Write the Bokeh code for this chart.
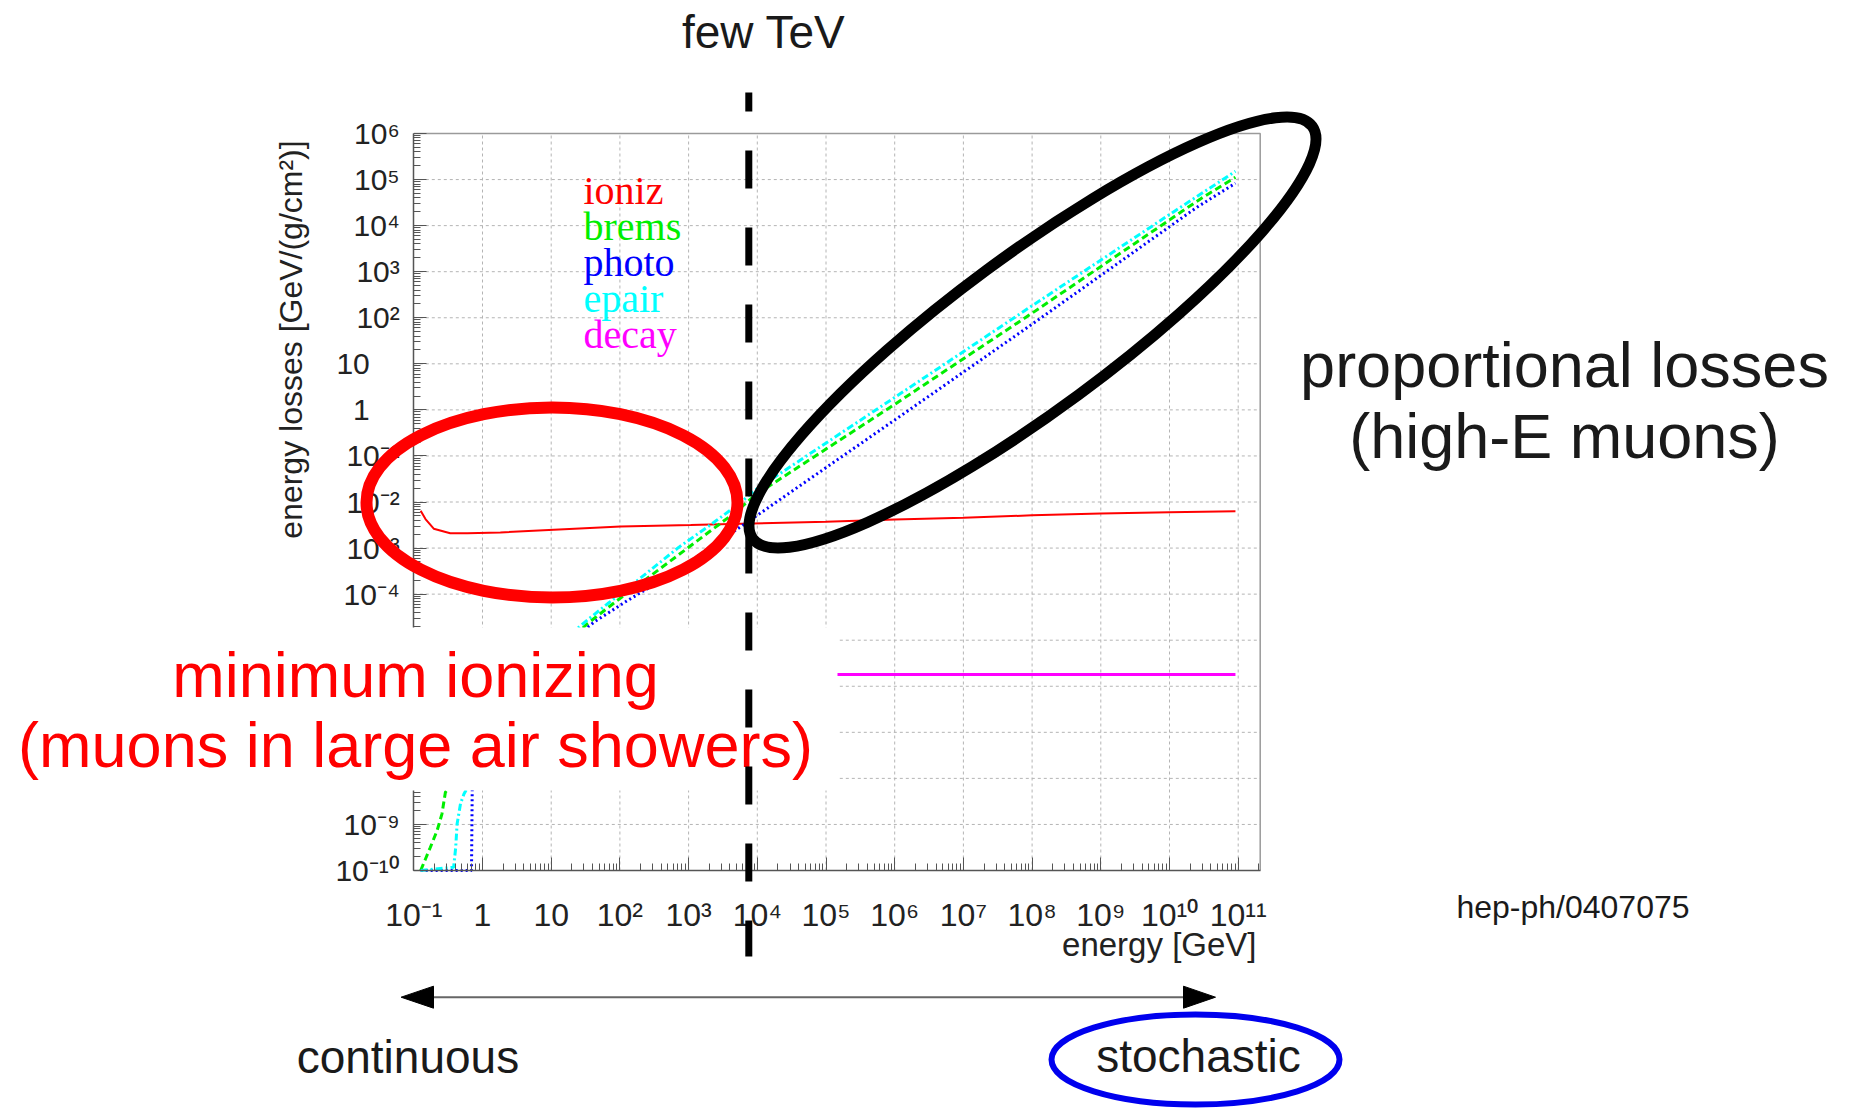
import numpy as np
from bokeh.plotting import figure
from bokeh.models import Range1d, LogScale, LogAxis, FixedTicker, CustomJSTickFormatter
from bokeh.core.properties import value
from bokeh.embed import file_html
from bokeh.resources import INLINE

# ---------------- data (log10 values) ----------------
series_names = ["ioniz", "brems", "photo", "epair", "decay"]
series_colors = ["#ff0000", "#00ee00", "#0000ff", "#00ffff", "#ff00ff"]

ioniz_log10E = [-0.90, -0.83, -0.71, -0.47, -0.22, 0.26, 1.04, 2.01, 3.03, 3.76,
                5.0, 6.0, 7.0, 8.0, 9.0, 10.0, 10.96]
ioniz_log10L = [-2.19, -2.37, -2.58, -2.68, -2.68, -2.66, -2.60, -2.53, -2.50, -2.47,
                -2.43, -2.38, -2.34, -2.29, -2.25, -2.22, -2.20]

brems_log10E = [-0.90, -0.83, -0.76, -0.66, -0.59, -0.54, 0.0, 0.5, 1.0, 1.52, 1.96,
                2.35, 3.03, 3.71, 3.96, 6.0, 8.0, 10.45, 10.96]
brems_log10L = [-10.0, -9.75, -9.50, -9.13, -8.77, -8.30, -7.3, -6.3, -5.4, -4.65, -4.14,
                -3.71, -2.95, -2.19, -1.86, 0.12, 2.10, 4.58, 5.05]

photo_log10E = [-0.90, -0.16, -0.15, -0.14, 0.5, 1.0, 1.62, 2.11, 2.59, 3.08, 3.37,
                3.96, 6.0, 8.0, 10.40, 10.96]
photo_log10L = [-10.0, -10.0, -8.3, -7.0, -6.2, -5.4, -4.61, -4.14, -3.71, -3.23, -2.93,
                -2.33, -0.22, 1.86, 4.40, 4.92]

epair_log10E = [-0.90, -0.42, -0.39, -0.37, -0.32, -0.27, 0.0, 0.5, 1.0, 1.43, 1.82,
                2.25, 2.86, 3.37, 3.76, 3.96, 6.0, 8.0, 10.09, 10.96]
epair_log10L = [-10.0, -9.93, -9.50, -8.99, -8.55, -8.34, -7.6, -6.4, -5.3, -4.68, -4.21,
                -3.71, -2.98, -2.44, -2.01, -1.75, 0.27, 2.26, 4.33, 5.18]

decay_log10E = [-0.90, 10.96]
decay_log10L = [-5.745, -5.745]

x_tick_exps = list(range(-1, 12))    # 10^-1 ... 10^11 GeV
y_tick_exps = list(range(-10, 7))    # 10^-10 ... 10^6

# ---------------- layout geometry (page pixels, measured from the top) ----------------
W, H = 1849, 1110
FX0, FX1, PX_DEC = 413.3, 1259.7, 68.7     # frame left (=1e-1), frame right, px per decade
FY_TOP, FY_BOT = 133.0, 870.0              # 1e6 and 1e-10
PY_DEC = (FY_BOT - FY_TOP) / 16.0
BASE_K = 0.36                              # baseline correction (fraction of font size)


def Y(top_px):
    return H - top_px


def YB(baseline_px, size):
    """page y for a text whose baseline should sit at baseline_px (from top)"""
    return H - (baseline_px - BASE_K * size)


ex0 = -1 - FX0 / PX_DEC
ex1 = -1 + (W - FX0) / PX_DEC
ly0 = -10 - (H - FY_BOT) / PY_DEC
ly1 = 6 + FY_TOP / PY_DEC
E_right = 10 ** (-1 + (FX1 - FX0) / PX_DEC)

p = figure(width=W, height=H, x_range=Range1d(0, W), y_range=Range1d(0, H),
           x_axis_type=None, y_axis_type=None, toolbar_location=None,
           output_backend="svg", min_border=0, outline_line_color=None, title=None)
p.background_fill_color = "white"
p.border_fill_color = "white"
p.extra_x_ranges = {"E": Range1d(10 ** ex0, 10 ** ex1)}
p.extra_x_scales = {"E": LogScale()}
p.extra_y_ranges = {"L": Range1d(10 ** ly0, 10 ** ly1)}
p.extra_y_scales = {"L": LogScale()}

# ---------------- grid + frame ----------------
xg = [10.0 ** k for k in x_tick_exps if k > -1]
yg = [10.0 ** k for k in y_tick_exps if -10 < k < 6]
p.segment(x0=xg, y0=[1e-10] * len(xg), x1=xg, y1=[1e6] * len(xg),
          x_range_name="E", y_range_name="L", line_color="#b4b4b4",
          line_width=1, line_dash="3 3", level="underlay")
p.segment(x0=[0.1] * len(yg), y0=yg, x1=[E_right] * len(yg), y1=yg,
          x_range_name="E", y_range_name="L", line_color="#b4b4b4",
          line_width=1, line_dash="3 3", level="underlay")
p.line(x=[0.1, E_right, E_right], y=[1e6, 1e6, 1e-10], x_range_name="E", y_range_name="L",
       line_color="#9a9a9a", line_width=1.5)

# ---------------- curves ----------------
def pw(a):
    return 10.0 ** np.array(a)

p.line(pw(ioniz_log10E), pw(ioniz_log10L), x_range_name="E", y_range_name="L",
       line_color=series_colors[0], line_width=2)
p.line(pw(brems_log10E), pw(brems_log10L), x_range_name="E", y_range_name="L",
       line_color=series_colors[1], line_width=3, line_dash="7 4")
p.line(pw(photo_log10E), pw(photo_log10L), x_range_name="E", y_range_name="L",
       line_color=series_colors[2], line_width=3, line_dash="2 3")
p.line(pw(epair_log10E), pw(epair_log10L), x_range_name="E", y_range_name="L",
       line_color=series_colors[3], line_width=3, line_dash="7 3 2 3")
p.line(pw(decay_log10E), pw(decay_log10L), x_range_name="E", y_range_name="L",
       line_color=series_colors[4], line_width=3)

# legend text (ROOT style, coloured words)
LEG = 40
p.text(x=[583] * 5,
       y=[YB(b, LEG) for b in (204, 240.5, 276, 312, 348)], text=series_names,
       text_color=series_colors, text_font=value("Liberation Serif"), text_font_size=f"{LEG}px",
       text_align="left", text_baseline="alphabetic")

# ---------------- axes ----------------
FMT = """
const sup = {"0":"\u2070","1":"\u00b9","2":"\u00b2","3":"\u00b3","4":"\u2074","5":"\u2075",
             "6":"\u2076","7":"\u2077","8":"\u2078","9":"\u2079","-":"\u207b"};
const e = Math.round(Math.log10(tick));
if (e === 0) return "1" + PAD;
if (e === 1) return "10" + PAD;
let s = "";
for (const c of String(e)) s += sup[c];
return "10" + s;
"""

xt = [10.0 ** k for k in x_tick_exps]
xminor = [m * 10.0 ** k for k in x_tick_exps for m in range(2, 10) if m * 10.0 ** k <= E_right]
yt = [10.0 ** k for k in y_tick_exps]
yminor = [m * 10.0 ** k for k in y_tick_exps[:-1] for m in range(2, 10)]

common = dict(axis_line_color="#555555", axis_line_width=1.5,
              major_tick_in=13, major_tick_out=0, minor_tick_in=7, minor_tick_out=0,
              major_tick_line_color="#555555", minor_tick_line_color="#555555",
              major_label_text_font="Liberation Sans", major_label_text_color="#222222")

xax = LogAxis(x_range_name="E", y_range_name="L", fixed_location=1e-10,
              bounds=(0.1, E_right),
              ticker=FixedTicker(ticks=xt, minor_ticks=xminor),
              formatter=CustomJSTickFormatter(code=FMT.replace("PAD", '""')),
              major_label_standoff=26, major_label_text_font_size="32px", **common)
p.add_layout(xax, "below")

yax = LogAxis(x_range_name="E", y_range_name="L", fixed_location=0.1,
              bounds=(1e-10, 1e6),
              ticker=FixedTicker(ticks=yt, minor_ticks=yminor),
              formatter=CustomJSTickFormatter(code=FMT.replace("PAD", '"\u2003"')),
              major_label_standoff=14, major_label_text_font_size="30px", **common)
p.add_layout(yax, "left")

# axis titles
p.text(x=[1256], y=[YB(956, 33)], text=["energy [GeV]"], text_color="#222222",
       text_font=value("Liberation Sans"), text_font_size="33px",
       text_align="right", text_baseline="alphabetic")
p.text(x=[302 - BASE_K * 32], y=[Y(339)], text=["energy losses [GeV/(g/cm\u00b2)]"],
       angle=[np.pi / 2],
       text_color="#222222", text_font=value("Liberation Sans"), text_font_size="32px",
       text_align="center", text_baseline="alphabetic")

# ---------------- slide annotations ----------------
SANS = value("Liberation Sans")
p.quad(left=[0], right=[837], top=[Y(627)], bottom=[Y(790)], fill_color="white",
       line_color=None, level="overlay")

p.text(x=[415, 415], y=[YB(696.7, 63), YB(766.7, 63)],
       text=["minimum ionizing", "(muons in large air showers)"], text_color="#ff0000",
       text_font=SANS, text_font_size="63px", text_align="center",
       text_baseline="alphabetic", level="overlay")

p.line(x=[748.3, 748.3], y=[Y(92), Y(956)], line_color="black", line_width=7,
       line_dash="38 39", line_dash_offset=19, level="overlay")

p.ellipse(x=[551.5], y=[Y(502)], width=[371], height=[190], fill_color=None,
          line_color="#ff0000", line_width=12, level="overlay")
p.ellipse(x=[1032], y=[Y(332)], width=[695], height=[155], angle=[np.radians(36.4)],
          fill_color=None, line_color="black", line_width=11, level="overlay")

p.text(x=[763.3], y=[YB(48.3, 46)], text=["few TeV"], text_color="#1a1a1a", text_font=SANS,
       text_font_size="46px", text_align="center", text_baseline="alphabetic")
p.text(x=[1564, 1564], y=[YB(387, 63), YB(457.7, 63)],
       text=["proportional losses", "(high-E muons)"],
       text_color="#1a1a1a", text_font=SANS, text_font_size="63px", text_align="center",
       text_baseline="alphabetic")
p.text(x=[1572.5], y=[YB(918, 32)], text=["hep-ph/0407075"], text_color="#1a1a1a",
       text_font=SANS, text_font_size="32px", text_align="center", text_baseline="alphabetic")

# continuous <-> stochastic arrow
p.segment(x0=[433], y0=[Y(996.7)], x1=[1183], y1=[Y(996.7)], line_color="#666666",
          line_width=2)
p.patches(xs=[[400.6, 433, 433], [1215, 1183, 1183]],
          ys=[[Y(996.7), Y(985.7), Y(1007.7)], [Y(996.7), Y(985.7), Y(1007.7)]],
          fill_color="black", line_color="black", line_width=1)
p.text(x=[407.4, 1198], y=[YB(1073, 46), YB(1072, 46)], text=["continuous", "stochastic"],
       text_color="#1a1a1a", text_font=SANS, text_font_size="46px", text_align="center",
       text_baseline="alphabetic")
p.ellipse(x=[1195], y=[Y(1059)], width=[288], height=[90], fill_color=None,
          line_color="#0000ee", line_width=6)

open("out.html", "w").write(file_html(p, INLINE))
